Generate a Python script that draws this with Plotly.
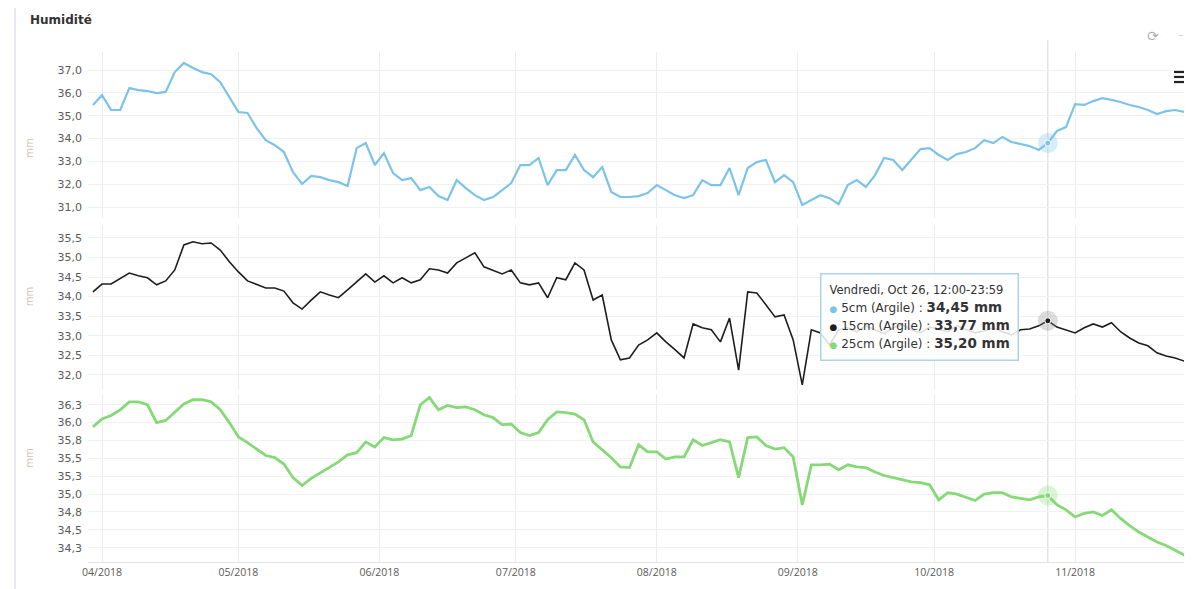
import pandas as pd
import plotly.graph_objects as go

# Humidité du sol (mm), un point tous les 2 jours à partir du 30/03/2018
debut = "2018-03-30"

sonde_5cm = [
    35.47, 35.90, 35.25, 35.25, 36.21, 36.12, 36.08, 35.99, 36.04, 36.91,
    37.31, 37.09, 36.91, 36.82, 36.47, 35.82, 35.16, 35.12, 34.46, 33.93,
    33.71, 33.41, 32.53, 32.01, 32.36, 32.31, 32.18, 32.09, 31.92, 33.58,
    33.80, 32.84, 33.36, 32.49, 32.18, 32.27, 31.74, 31.88, 31.48, 31.31,
    32.18, 31.83, 31.52, 31.31, 31.44, 31.74, 32.05, 32.84, 32.84, 33.15,
    31.96, 32.62, 32.62, 33.28, 32.62, 32.31, 32.75, 31.66, 31.44, 31.44,
    31.48, 31.61, 31.96, 31.74, 31.52, 31.39, 31.52, 32.18, 31.96, 31.96,
    32.71, 31.52, 32.71, 32.97, 33.06, 32.09, 32.40, 32.09, 31.09, 31.31,
    31.52, 31.39, 31.13, 31.96, 32.18, 31.88, 32.40, 33.15, 33.06, 32.62,
    33.06, 33.54, 33.58, 33.28, 33.06, 33.32, 33.41, 33.58, 33.93, 33.80,
    34.07, 33.85, 33.76, 33.67, 33.50, 33.80, 34.33, 34.50, 35.51, 35.47,
    35.64, 35.77, 35.69, 35.60, 35.47, 35.38, 35.25, 35.07, 35.20, 35.25,
    35.16, 35.16,
]

sonde_15cm = [
    34.12, 34.32, 34.32, 34.45, 34.60, 34.53, 34.48, 34.30, 34.40, 34.68,
    35.32, 35.40, 35.35, 35.37, 35.19, 34.89, 34.63, 34.40, 34.32, 34.22,
    34.22, 34.14, 33.84, 33.68, 33.91, 34.12, 34.04, 33.97, 34.17, 34.37,
    34.58, 34.37, 34.53, 34.35, 34.48, 34.35, 34.43, 34.71, 34.68, 34.60,
    34.86, 34.99, 35.12, 34.76, 34.66, 34.58, 34.68, 34.35, 34.30, 34.35,
    33.97, 34.48, 34.43, 34.86, 34.68, 33.91, 34.04, 32.89, 32.38, 32.43,
    32.76, 32.89, 33.07, 32.84, 32.64, 32.43, 33.30, 33.20, 33.15, 32.84,
    33.45, 32.12, 34.12, 34.09, 33.79, 33.48, 33.53, 32.89, 31.74, 33.15,
    33.07, 32.76, 33.15, 33.20, 33.10, 33.25, 33.15, 33.05, 33.20, 33.28,
    33.15, 33.07, 33.22, 33.15, 33.10, 33.25, 33.17, 33.07, 33.12, 33.20,
    33.10, 33.02, 33.15, 33.17, 33.25, 33.38, 33.22, 33.15, 33.07, 33.20,
    33.30, 33.22, 33.33, 33.10, 32.94, 32.81, 32.74, 32.56, 32.48, 32.43,
    32.35, 32.30,
]

sonde_25cm = [
    35.94, 36.05, 36.10, 36.18, 36.29, 36.29, 36.25, 36.00, 36.03, 36.15,
    36.26, 36.32, 36.32, 36.29, 36.18, 36.00, 35.80, 35.72, 35.63, 35.54,
    35.51, 35.42, 35.23, 35.12, 35.22, 35.30, 35.38, 35.45, 35.55, 35.58,
    35.73, 35.66, 35.79, 35.76, 35.77, 35.82, 36.25, 36.35, 36.18, 36.24,
    36.21, 36.22, 36.18, 36.11, 36.07, 35.97, 35.98, 35.86, 35.82, 35.86,
    36.04, 36.15, 36.14, 36.12, 36.04, 35.73, 35.62, 35.51, 35.38, 35.37,
    35.69, 35.59, 35.59, 35.49, 35.52, 35.52, 35.76, 35.68, 35.72, 35.76,
    35.73, 35.23, 35.79, 35.80, 35.68, 35.63, 35.65, 35.52, 34.85, 35.41,
    35.41, 35.42, 35.34, 35.41, 35.38, 35.37, 35.31, 35.26, 35.23, 35.20,
    35.17, 35.16, 35.13, 34.92, 35.02, 35.00, 34.96, 34.91, 35.00, 35.02,
    35.02, 34.96, 34.94, 34.92, 34.96, 34.98, 34.85, 34.78, 34.68, 34.73,
    34.75, 34.70, 34.78, 34.66, 34.56, 34.47, 34.40, 34.33, 34.28, 34.21,
    34.15, 34.10,
]

mois_vals = ["2018-04-01", "2018-05-01", "2018-06-01", "2018-07-01",
             "2018-08-01", "2018-09-01", "2018-10-01", "2018-11-01"]
mois_text = ["04/2018", "05/2018", "06/2018", "07/2018",
             "08/2018", "09/2018", "10/2018", "11/2018"]

y5_ticks = [31, 32, 33, 34, 35, 36, 37]
y5_text = ["31,0", "32,0", "33,0", "34,0", "35,0", "36,0", "37,0"]
y15_ticks = [32.0, 32.5, 33.0, 33.5, 34.0, 34.5, 35.0, 35.5]
y15_text = ["32,0", "32,5", "33,0", "33,5", "34,0", "34,5", "35,0", "35,5"]
y25_ticks = [34.25, 34.5, 34.75, 35.0, 35.25, 35.5, 35.75, 36.0, 36.25]
y25_text = ["34,3", "34,5", "34,8", "35,0", "35,3", "35,5", "35,8", "36,0", "36,3"]

jour_survol = "2018-10-26"
tooltip_titre = "Vendredi, Oct 26, 12:00-23:59"
tooltip_vals = ["34,45", "33,77", "35,20"]

dates = pd.date_range(debut, periods=len(sonde_5cm), freq="2D")
k = dates.get_loc(pd.Timestamp(jour_survol))

series = [
    ("5cm (Argile)", sonde_5cm, "#7cc3ea", 2.2, "y", "#7cc3ea"),
    ("15cm (Argile)", sonde_15cm, "#1e1e1e", 1.6, "y2", "#8a8a8a"),
    ("25cm (Argile)", sonde_25cm, "#86d977", 2.8, "y3", "#86d977"),
]

fig = go.Figure()
for nom, vals, couleur, largeur, yax, halo in series:
    fig.add_trace(go.Scatter(
        x=dates, y=vals, mode="lines", name=nom, yaxis=yax,
        line=dict(color=couleur, width=largeur), showlegend=False,
    ))
    # point survolé + halo
    fig.add_trace(go.Scatter(
        x=[dates[k]], y=[vals[k]], mode="markers", yaxis=yax, showlegend=False,
        marker=dict(size=20, color=halo, opacity=0.3),
    ))
    fig.add_trace(go.Scatter(
        x=[dates[k]], y=[vals[k]], mode="markers", yaxis=yax, showlegend=False,
        marker=dict(size=6, color=couleur, line=dict(color="white", width=1)),
    ))

tick_font = dict(family="DejaVu Sans", size=11, color="#5a5a5a")
grid = dict(showgrid=True, gridcolor="#f1f1f1", gridwidth=1, zeroline=False,
            ticks="", tickfont=tick_font, anchor="x", ticklabelstandoff=5)

# la page HTML a une marge de 8 px : la figure fait 1184x581
fig.update_layout(
    width=1184, height=581,
    margin=dict(l=80, r=0, t=0, b=27),
    paper_bgcolor="white", plot_bgcolor="white",
    title=dict(text="<b>Humidité</b>", x=0.0186, y=0.979, xref="container",
               yref="container", xanchor="left", yanchor="middle",
               font=dict(family="DejaVu Sans", size=12, color="#333333")),
    xaxis=dict(type="date", anchor="y3",
               range=["2018-03-28 22:00", "2018-11-26 17:00"],
               tickvals=mois_vals, ticktext=mois_text, ticks="",
               tickfont=dict(family="Open Sans", size=10.5, color="#5a5a5a"),
               showgrid=True, gridcolor="#ececec", zeroline=False,
               showline=True, linecolor="#e2e2e2", linewidth=1),
    yaxis=dict(domain=[0.6209, 0.9206], range=[30.52, 37.79],
               tickvals=y5_ticks, ticktext=y5_text, **grid),
    yaxis2=dict(domain=[0.3105, 0.6083], range=[31.61, 35.83],
                tickvals=y15_ticks, ticktext=y15_text, **grid),
    yaxis3=dict(domain=[0.0, 0.3032], range=[34.05, 36.40],
                tickvals=y25_ticks, ticktext=y25_text, **grid),
    hovermode=False,
)

# titres "mm" des axes
for yp in [0.7671, 0.4783, 0.1661]:
    fig.add_annotation(text="mm", x=-0.06, y=yp, xref="paper", yref="paper",
                       textangle=-90, showarrow=False,
                       font=dict(family="DejaVu Sans", size=10, color="#cfc6b8"))

# ligne de survol
fig.add_shape(type="line", xref="x", yref="paper", x0=jour_survol, x1=jour_survol,
              y0=0, y1=0.942, line=dict(color="#d6d6d6", width=1), layer="below")

# bordure gauche de la page
fig.add_shape(type="line", xref="paper", yref="paper", x0=-0.0661, x1=-0.0661,
              y0=-0.05, y1=1.0, line=dict(color="#dde3ea", width=1.5))

# infobulle
ligne = ("<span style='color:{c};font-size:9px'>●</span>"
         "<span style='font-size:12px'> {n} : </span>"
         "<span style='font-size:13.5px'><b>{v} mm</b></span>")
texte = "<span style='font-size:11.5px'>" + tooltip_titre + "</span>"
for (nom, _, couleur, _, _, _), v in zip(series, tooltip_vals):
    texte += "<br>" + ligne.format(c=couleur, n=nom, v=v)
fig.add_annotation(
    text=texte, x=0.663, y=0.5217, xref="paper", yref="paper",
    xanchor="left", yanchor="top", align="left", showarrow=False,
    bgcolor="rgba(255,255,255,0.85)", bordercolor="#a9d3ee", borderwidth=1.5,
    borderpad=8, font=dict(family="DejaVu Sans", size=14, color="#333333"),
)

# icônes en haut à droite
fig.add_annotation(text="⟳", x=0.972, y=0.968, xref="paper", yref="paper",
                   showarrow=False, font=dict(family="DejaVu Sans", size=14, color="#b0b0b0"))
fig.add_annotation(text="–", x=0.995, y=0.968, xref="paper", yref="paper",
                   showarrow=False, font=dict(family="DejaVu Sans", size=11, color="#d0d0d0"))
for yp in [0.8845, 0.8755, 0.8664]:
    fig.add_shape(type="line", xref="paper", yref="paper", x0=0.9837, x1=0.9982,
                  y0=yp, y1=yp, line=dict(color="#222222", width=2.2))

fig.write_html("out.html")
